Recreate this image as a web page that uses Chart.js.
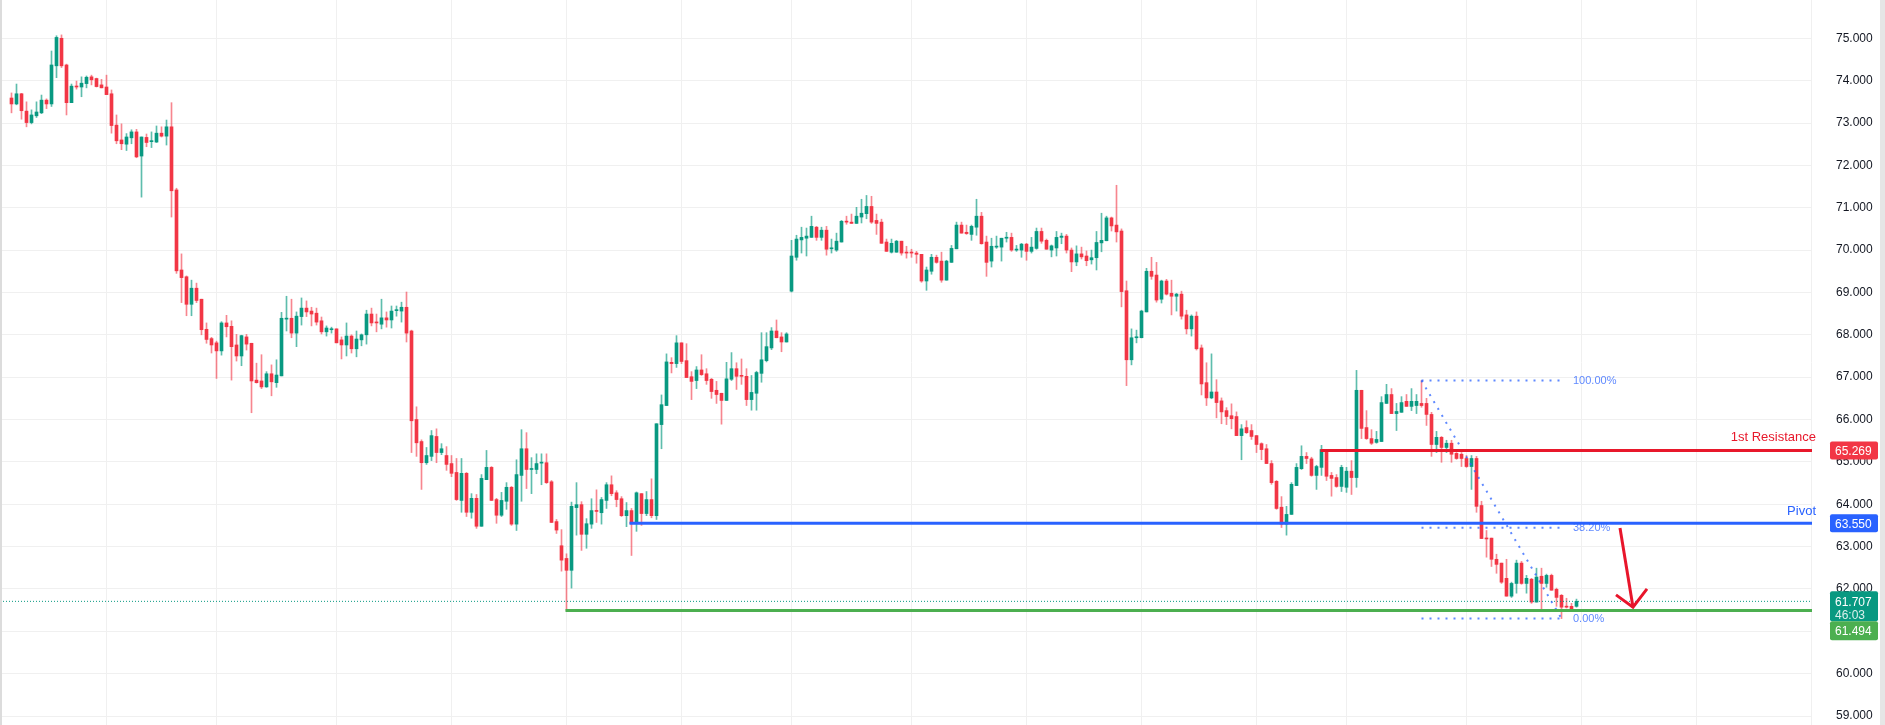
<!DOCTYPE html>
<html>
<head>
<meta charset="utf-8">
<script src="https://cdn.jsdelivr.net/npm/chart.js@4.4.1/dist/chart.umd.min.js"></script>
<style>
  html, body { margin: 0; padding: 0; background: #fff; overflow: hidden; }
  #wrap { width: 1885px; height: 725px; position: relative; }
</style>
</head>
<body>
<div id="wrap"><canvas id="chart" width="1885" height="725"></canvas></div>
<script>
// candles (one per bar, oldest first)
const opens = [
  73.59,73.45,73.69,73.28,73.01,73.17,73.24,73.54,73.45,74.35,
  75.00,74.37,73.48,73.87,73.85,73.93,74.09,74.05,73.90,73.85,
  73.69,72.95,72.60,72.50,72.65,72.79,72.22,72.66,72.56,72.55,
  72.76,72.69,72.91,71.42,69.53,69.37,68.72,69.10,68.84,68.13,
  67.91,67.81,67.62,68.28,68.20,67.76,67.50,67.95,67.80,66.93,
  66.91,66.77,67.08,66.87,67.03,68.37,68.39,68.04,68.43,68.63,
  68.56,68.51,68.33,68.07,68.12,68.14,67.88,67.76,67.97,67.67,
  67.88,68.00,68.49,68.30,68.25,68.40,68.35,68.57,68.56,68.65,
  68.09,66.00,65.48,64.98,65.13,65.60,65.22,65.15,64.96,64.75,
  64.09,64.73,63.81,64.14,63.48,64.58,64.87,64.11,63.74,64.07,
  64.40,63.53,64.68,65.31,64.82,64.82,64.97,64.98,64.53,63.59,
  63.02,62.72,62.44,63.92,63.99,63.29,63.53,63.85,63.80,64.09,
  64.46,64.27,64.13,63.73,63.85,63.54,64.25,63.78,64.11,63.73,
  65.88,66.33,67.35,67.32,67.81,67.39,67.01,66.92,67.17,67.08,
  66.95,66.69,66.62,66.45,66.95,67.20,67.04,67.02,66.47,66.62,
  67.09,67.39,67.69,68.09,67.95,67.83,69.03,69.83,70.24,70.28,
  70.30,70.54,70.30,70.47,70.03,70.00,70.19,70.68,70.66,70.63,
  70.78,70.86,71.03,70.70,70.66,70.19,69.95,69.95,70.21,69.95,
  69.95,69.93,69.90,69.27,69.50,69.83,69.74,69.29,69.71,70.03,
  70.59,70.42,70.37,70.54,70.80,70.19,69.74,70.07,70.07,70.28,
  70.30,70.00,70.00,70.14,69.97,70.04,70.44,70.23,70.00,70.05,
  70.30,70.33,70.00,69.72,69.91,69.86,69.77,69.82,70.17,70.22,
  70.76,70.59,70.45,69.04,67.41,67.93,67.93,68.54,69.50,69.41,
  68.84,69.27,68.98,68.91,68.96,68.47,68.14,68.44,67.69,66.87,
  66.51,66.65,66.44,66.21,66.09,66.07,65.62,65.81,65.74,65.62,
  65.43,65.31,64.96,64.54,63.93,63.53,63.76,64.44,64.84,65.13,
  65.07,64.68,64.87,65.29,64.68,64.63,64.42,64.40,64.78,64.63,
  66.69,65.81,65.55,65.46,65.48,66.38,66.59,66.14,66.17,66.43,
  66.31,66.33,66.38,66.38,66.12,65.41,65.58,65.34,65.44,65.20,
  65.18,65.08,64.89,65.08,63.97,63.20,63.20,62.70,62.61,62.25,
  61.83,62.13,62.61,62.13,62.23,61.69,62.30,62.13,62.32,61.99,
  61.85,61.59,61.59,61.59
];
const highs = [
  73.71,73.92,73.70,73.50,73.31,73.50,73.66,73.57,74.70,75.06,
  75.08,74.39,73.92,73.99,74.09,74.11,74.13,74.06,74.03,74.13,
  73.78,73.19,72.98,72.75,72.84,72.85,72.67,72.74,72.79,72.93,
  72.91,73.07,73.48,71.46,69.91,69.39,69.29,69.22,68.84,68.28,
  67.94,67.85,68.31,68.46,68.33,68.01,67.99,68.01,67.80,67.33,
  67.53,67.13,67.29,67.41,68.53,68.91,68.84,68.54,68.87,68.80,
  68.65,68.63,68.42,68.21,68.18,68.14,67.95,68.28,68.00,68.09,
  68.02,68.58,68.63,68.49,68.84,68.54,68.68,68.68,68.77,69.01,
  68.11,66.30,65.52,65.34,65.74,65.78,65.43,65.36,65.15,65.08,
  65.08,64.75,64.25,64.23,64.70,65.27,64.89,64.14,64.28,64.51,
  64.42,65.05,65.76,65.69,65.10,65.19,65.19,65.19,64.56,63.64,
  63.40,62.83,64.05,64.51,64.06,63.66,64.13,64.34,64.16,64.51,
  64.67,64.32,64.18,64.04,63.90,64.29,64.25,64.30,64.60,65.90,
  66.58,67.55,67.46,67.98,67.81,67.79,67.13,67.25,67.53,67.20,
  66.97,66.90,66.62,67.35,67.58,67.34,67.43,67.20,67.04,67.14,
  68.05,68.05,68.17,68.35,68.05,68.05,70.23,70.35,70.54,70.52,
  70.80,70.56,70.54,70.56,70.26,70.40,70.70,70.80,70.85,71.01,
  71.20,71.29,71.27,70.85,70.73,70.26,70.26,70.23,70.21,70.09,
  70.02,69.97,69.90,69.60,69.90,69.88,69.95,69.76,70.11,70.66,
  70.66,70.59,70.59,71.20,70.89,70.33,70.28,70.33,70.28,70.42,
  70.40,70.11,70.16,70.16,70.30,70.52,70.52,70.26,70.12,70.44,
  70.40,70.37,70.05,70.10,70.07,69.98,70.00,70.44,70.87,70.80,
  70.78,71.53,70.50,69.27,68.14,68.11,68.58,69.57,69.83,69.71,
  69.29,69.31,69.29,68.98,69.03,68.58,68.47,68.54,67.76,67.34,
  67.55,66.94,66.51,66.28,66.37,66.18,65.88,65.97,65.88,65.62,
  65.45,65.41,65.03,64.56,64.18,63.95,64.51,64.96,65.38,65.22,
  65.11,64.92,65.39,65.29,64.75,64.70,64.92,64.87,65.03,67.16,
  66.69,66.21,65.76,65.72,66.54,66.83,66.73,66.38,66.54,66.59,
  66.73,66.59,66.92,66.50,66.17,65.72,65.60,65.51,65.51,65.22,
  65.22,65.15,65.15,65.13,64.07,63.38,63.20,62.82,62.61,62.70,
  62.16,62.68,62.65,62.32,62.25,62.49,62.49,62.35,62.35,62.02,
  61.87,61.78,61.66,61.76
];
const lows = [
  73.24,73.43,73.09,72.91,72.98,73.13,73.22,73.34,73.39,74.07,
  74.31,73.19,73.48,73.80,73.62,73.83,73.90,73.85,73.83,73.67,
  72.76,72.51,72.37,72.35,72.51,72.18,71.25,72.44,72.42,72.54,
  72.67,72.48,70.78,69.45,68.76,68.45,68.45,68.76,68.00,67.80,
  67.57,66.97,67.52,67.95,66.93,67.38,67.27,67.64,66.16,66.86,
  66.73,66.76,66.56,66.76,67.03,68.09,67.93,67.72,68.23,68.43,
  68.21,68.23,68.02,67.97,68.04,67.81,67.43,67.50,67.57,67.48,
  67.74,67.78,68.21,68.07,68.14,68.18,68.16,68.44,68.30,67.83,
  65.22,65.13,64.35,64.94,65.03,64.98,65.17,64.80,64.65,64.09,
  63.81,63.71,63.67,63.43,63.48,64.58,64.09,63.55,63.71,63.88,
  63.50,63.38,64.07,64.37,64.25,64.72,64.46,64.49,63.57,63.31,
  62.42,61.49,62.02,63.27,62.91,62.96,63.43,63.57,63.53,63.90,
  64.20,63.94,63.71,63.47,62.79,63.36,63.50,63.73,63.68,63.64,
  65.31,66.33,67.10,67.23,67.32,66.99,66.47,66.73,67.04,66.83,
  66.50,66.38,65.89,66.45,66.92,66.71,66.83,66.33,66.22,66.22,
  66.88,67.36,67.65,67.93,67.60,67.83,69.01,69.76,69.93,69.86,
  70.30,70.23,70.23,69.88,69.93,69.97,70.19,70.61,70.63,70.63,
  70.64,70.74,70.63,70.37,70.16,69.97,69.93,69.95,69.88,69.81,
  69.83,69.69,69.24,69.05,69.43,69.69,69.24,69.29,69.71,70.03,
  70.40,70.37,70.23,70.35,70.14,69.38,69.60,70.04,69.74,70.19,
  69.97,69.97,69.83,69.76,69.93,70.02,70.16,70.02,69.84,69.86,
  70.15,69.93,69.49,69.63,69.79,69.63,69.67,69.53,69.96,70.22,
  70.45,70.19,68.66,66.80,67.29,67.81,67.93,68.54,69.31,68.77,
  68.75,68.94,68.47,68.56,68.37,68.02,67.97,67.64,66.58,66.33,
  66.49,66.04,65.90,65.88,65.78,65.62,65.05,65.67,65.53,65.22,
  65.05,64.96,64.47,63.88,63.45,63.27,63.76,64.44,64.82,64.96,
  64.66,64.35,64.68,64.56,64.19,64.40,64.30,64.28,64.23,64.40,
  65.55,65.53,65.41,65.44,65.48,66.38,66.14,65.74,66.17,66.31,
  66.21,66.14,66.29,65.86,65.13,65.22,64.99,65.22,64.99,65.06,
  64.89,64.87,64.35,63.81,63.19,62.75,62.53,62.37,62.13,61.83,
  61.80,61.90,62.11,61.90,61.66,61.69,61.52,62.04,61.97,61.59,
  61.30,61.55,61.47,61.57
];
const closes = [
  73.45,73.69,73.29,73.01,73.19,73.26,73.54,73.45,74.37,75.02,
  74.35,73.48,73.87,73.85,73.94,74.08,74.02,73.86,73.83,73.67,
  72.94,72.58,72.51,72.67,72.79,72.20,72.67,72.54,72.58,72.76,
  72.69,72.91,71.40,69.51,69.35,68.72,69.10,68.81,68.12,67.89,
  67.76,67.62,68.28,68.19,67.72,67.50,67.98,67.78,66.91,66.87,
  66.77,67.08,66.89,67.05,68.39,68.39,68.04,68.44,68.63,68.54,
  68.49,68.30,68.07,68.16,68.14,67.81,67.76,67.97,67.67,67.90,
  68.00,68.49,68.28,68.28,68.40,68.35,68.56,68.58,68.65,68.04,
  65.97,65.45,64.98,65.15,65.62,65.22,65.31,64.94,64.73,64.11,
  64.73,63.81,64.14,63.48,64.61,64.87,64.09,63.74,64.09,64.40,
  63.53,64.70,65.31,64.82,64.84,64.96,64.98,64.51,63.57,63.39,
  62.68,62.44,63.95,63.99,63.29,63.54,63.85,63.83,64.11,64.46,
  64.25,64.11,63.73,63.85,63.54,64.27,63.78,64.11,63.73,65.90,
  66.35,67.36,67.32,67.81,67.37,66.99,66.90,67.17,67.06,66.92,
  66.66,66.59,66.45,66.96,67.20,67.02,67.02,66.47,66.64,67.11,
  67.41,67.72,68.09,67.93,67.83,68.02,69.86,70.26,70.30,70.33,
  70.56,70.30,70.47,70.02,70.04,70.21,70.68,70.66,70.63,70.80,
  70.87,71.03,70.66,70.63,70.16,69.97,70.16,70.21,69.93,69.93,
  69.93,69.90,69.27,69.53,69.83,69.71,69.29,69.74,70.04,70.59,
  70.40,70.39,70.56,70.80,70.15,69.71,70.09,70.09,70.28,70.30,
  70.00,70.02,70.14,69.97,70.07,70.44,70.21,70.02,70.10,70.30,
  70.33,70.00,69.72,69.91,69.84,69.75,69.82,70.18,70.23,70.76,
  70.57,70.43,69.02,67.41,67.93,67.95,68.56,69.50,69.38,68.82,
  69.27,68.96,68.91,68.96,68.44,68.14,68.44,67.67,66.84,66.51,
  66.65,66.40,66.18,66.07,66.02,65.62,65.78,65.69,65.60,65.41,
  65.29,64.96,64.51,63.90,63.53,63.76,64.47,64.87,65.13,65.08,
  64.68,64.89,65.29,64.66,64.61,64.42,64.87,64.78,64.63,66.69,
  65.79,65.55,65.44,65.53,66.40,66.59,66.14,66.19,66.40,66.31,
  66.43,66.43,66.33,66.12,65.41,65.58,65.34,65.44,65.18,65.08,
  65.08,64.89,65.08,63.95,63.19,63.18,62.70,62.58,62.16,61.83,
  62.13,62.61,62.13,62.25,61.69,62.28,62.13,62.32,61.97,61.80,
  61.57,61.57,61.52,61.707
];

// price scale
const priceTicks = [59,60,61,62,63,64,65,66,67,68,69,70,71,72,73,74,75];
// bar indexes where the time grid lines fall
const timeGrid = [19,41,65,88,111,134,156,180,203,226,249,267,291,314,337,360];

// drawn levels: [value, first bar]
const resistance = [65.269, 261.8];
const pivot = [63.550, 123.6];
const support = [61.494, 110.8];
const lastPrice = 61.707;
const countdown = '46:03';

// fibonacci retracement drawing
const fibFrom = [282, 66.92];
const fibTo = [310, 61.30];
const fibEndBar = 310.7;
const fibLevels = [1.0, 0.382, 0.0];
const fibLabels = ['100.00%', '38.20%', '0.00%'];

// hand drawn arrow [bar, price]
const arrowShaft = [[321.7, 63.44], [324.3, 61.57]];
const arrowHead = [[320.9, 61.86], [324.3, 61.57], [327.1, 62.00]];

const UP = '#089981', DOWN = '#F23645';
const X_MIN = -2.3, X_MAX = 360.1;

const bodies = [], wicks = [], bodyCol = [], wickCol = [];
opens.forEach((o, i) => {
  const c = closes[i];
  bodies.push({ x: i, y: [o, c] });
  wicks.push({ x: i, y: [lows[i], highs[i]] });
  bodyCol.push(c >= o ? UP : DOWN);
  wickCol.push(c >= o ? 'rgba(8,153,129,0.65)' : 'rgba(242,54,69,0.6)');
});

const fibSpan = fibFrom[1] - fibTo[1];
const fibSets = fibLevels.map(f => ({
  type: 'line', order: 0,
  data: [{ x: fibFrom[0], y: fibTo[1] + f * fibSpan }, { x: fibEndBar, y: fibTo[1] + f * fibSpan }],
  borderColor: 'rgba(41,98,255,0.75)', borderWidth: 2, borderDash: [2, 6],
  pointRadius: 0, fill: false
}));

function levelLine(lv, color) {
  return {
    type: 'line', order: 0,
    data: [{ x: lv[1], y: lv[0] }, { x: X_MAX, y: lv[0] }],
    borderColor: color, borderWidth: 3, pointRadius: 0, fill: false
  };
}

const overlay = {
  id: 'overlay',
  afterDatasetsDraw(chart) {
    const { ctx, scales: { x, y } } = chart;
    ctx.save();
    // fib labels
    ctx.font = '11px "Liberation Sans", Arial, sans-serif';
    ctx.fillStyle = 'rgba(41,98,255,0.75)';
    ctx.textBaseline = 'middle';
    ctx.textAlign = 'left';
    fibLevels.forEach((f, k) => {
      const v = fibTo[1] + f * fibSpan;
      ctx.fillText(fibLabels[k], x.getPixelForValue(fibEndBar) + 8, y.getPixelForValue(v));
    });
    // level captions
    ctx.font = '13px "Liberation Sans", Arial, sans-serif';
    ctx.textAlign = 'right';
    ctx.textBaseline = 'alphabetic';
    ctx.fillStyle = '#E8182B';
    ctx.fillText('1st Resistance', chart.chartArea.right + 4, y.getPixelForValue(resistance[0]) - 9);
    ctx.fillStyle = '#2962FF';
    ctx.fillText('Pivot', chart.chartArea.right + 4, y.getPixelForValue(pivot[0]) - 8);
    ctx.restore();
  },
  afterDraw(chart) {
    const { ctx, scales: { y } } = chart;
    const bx = 1830, bw = 48;
    ctx.save();
    ctx.font = '12px "Liberation Sans", Arial, sans-serif';
    ctx.textBaseline = 'middle';
    ctx.textAlign = 'left';
    const box = (top, h, bg) => {
      ctx.fillStyle = bg;
      ctx.beginPath();
      ctx.roundRect(bx, top, bw, h, 2);
      ctx.fill();
    };
    let py = y.getPixelForValue(resistance[0]);
    box(py - 9, 18, '#F23645');
    ctx.fillStyle = '#fff'; ctx.fillText(resistance[0].toFixed(3), bx + 5, py + 1);
    py = y.getPixelForValue(pivot[0]);
    box(py - 9, 18, '#2962FF');
    ctx.fillStyle = '#fff'; ctx.fillText(pivot[0].toFixed(3), bx + 5, py + 1);
    py = y.getPixelForValue(lastPrice);
    box(py - 10, 30, UP);
    ctx.fillStyle = '#fff'; ctx.fillText(lastPrice.toFixed(3), bx + 5, py + 1);
    ctx.fillStyle = 'rgba(255,255,255,0.85)'; ctx.fillText(countdown, bx + 5, py + 14);
    box(py + 20, 19, '#4CAF50');
    ctx.fillStyle = '#fff'; ctx.fillText(support[0].toFixed(3), bx + 5, py + 30);
    // frame edges
    ctx.fillStyle = '#dcdcdc';
    ctx.fillRect(0, 0, 2, chart.height);
    ctx.fillStyle = '#e6e6e6';
    ctx.fillRect(1880, 0, 5, chart.height);
    ctx.restore();
  }
};

new Chart(document.getElementById('chart'), {
  type: 'bar',
  data: {
    datasets: [
      { label: 'wick', data: wicks, backgroundColor: wickCol, barThickness: 1, grouped: false, order: 3, minBarLength: 1 },
      { label: 'body', data: bodies, backgroundColor: bodyCol, barThickness: 3, grouped: false, order: 2, minBarLength: 1 },
      { type: 'line', order: 1, data: [{ x: X_MIN, y: lastPrice }, { x: X_MAX, y: lastPrice }],
        borderColor: UP, borderWidth: 1, borderDash: [1, 2], pointRadius: 0, fill: false },
      levelLine(support, '#4CAF50'),
      levelLine(pivot, '#2962FF'),
      levelLine(resistance, '#E8182B'),
      ...fibSets,
      { type: 'line', order: 0, data: [{ x: fibFrom[0], y: fibFrom[1] }, { x: fibTo[0], y: fibTo[1] }],
        borderColor: 'rgba(41,98,255,0.75)', borderWidth: 2, borderDash: [2, 6], pointRadius: 0, fill: false },
      { type: 'line', order: 0, data: arrowShaft.map(p => ({ x: p[0], y: p[1] })),
        borderColor: '#E8152B', borderWidth: 3, pointRadius: 0, fill: false },
      { type: 'line', order: 0, data: arrowHead.map(p => ({ x: p[0], y: p[1] })),
        borderColor: '#E8152B', borderWidth: 3, pointRadius: 0, fill: false, borderJoinStyle: 'miter' }
    ]
  },
  options: {
    responsive: false,
    animation: false,
    devicePixelRatio: 1,
    layout: { padding: 0 },
    plugins: { legend: { display: false }, tooltip: { enabled: false } },
    scales: {
      x: {
        type: 'linear', min: X_MIN, max: X_MAX, offset: false,
        grid: { color: '#f0f0f0', drawTicks: false, offset: false },
        border: { display: false },
        ticks: { display: false },
        afterBuildTicks: s => { s.ticks = timeGrid.map(v => ({ value: v })); },
        afterFit: s => { s.height = 0; s.paddingLeft = 0; s.paddingRight = 0; }
      },
      y: {
        type: 'linear', position: 'right', min: 58.788, max: 75.904,
        grid: { color: '#f0f0f0', drawTicks: false },
        border: { display: false },
        ticks: {
          color: '#131722', padding: 24,
          font: { family: '"Liberation Sans", Arial, sans-serif', size: 12 },
          callback: v => v.toFixed(3)
        },
        afterBuildTicks: s => { s.ticks = priceTicks.map(v => ({ value: v })); },
        afterFit: s => { s.width = 73; s.paddingTop = 0; s.paddingBottom = 0; }
      }
    }
  },
  plugins: [overlay]
});
</script>
</body>
</html>
